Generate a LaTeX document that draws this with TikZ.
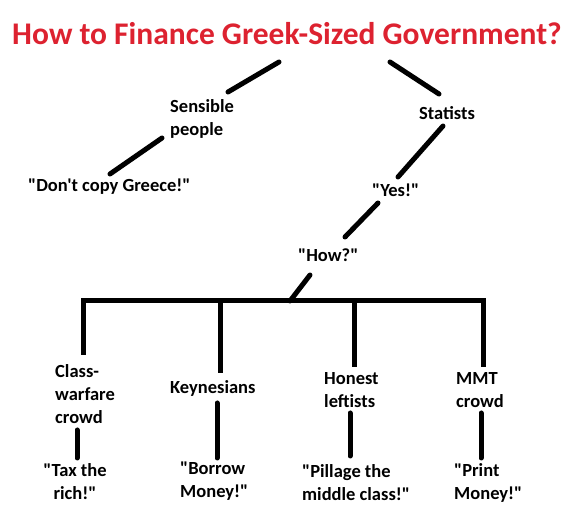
\documentclass[tikz,border=0pt]{standalone}
\usepackage{fontspec}
\setmainfont{Carlito}[Ligatures=TeXOff]
\definecolor{titlered}{HTML}{DD2230}
\begin{document}
\begin{tikzpicture}[x=1pt,y=-1pt,
  lbl/.style={inner sep=0pt,anchor=west,align=left,font=\fontsize{18.5}{23}\selectfont\bfseries},
  conn/.style={line width=5pt,line cap=round},
  barline/.style={line width=5pt,line join=miter}]
\useasboundingbox[fill=white] (0,0) rectangle (574,526);
\node[inner sep=0pt,text=titlered,font=\fontsize{31.5}{36}\selectfont\bfseries] (title) at (287,34) {How to Finance Greek-Sized Government?};
\node[lbl] (sens) at (170,118.5) {Sensible\\people};
\node[lbl] (dont) at (28,187) {"Don't copy Greece!"};
\node[lbl] (stat) at (419,113) {Statists};
\node[lbl] (yes) at (372,190) {"Yes!"};
\node[lbl] (how) at (298,255) {"How?"};
\node[lbl] (class) at (55,394) {Class-\\warfare\\crowd};
\node[lbl] (key) at (170,388) {Keynesians};
\node[lbl] (hon) at (324,390) {Honest\\leftists};
\node[lbl] (mmt) at (456,390) {MMT\\crowd};
\node[lbl,anchor=center,align=center] (tax) at (75,482) {"Tax the\\rich!"};
\node[lbl] (bor) at (180,481) {"Borrow\\Money!"};
\node[lbl] (pil) at (302,483) {"Pillage the\\middle class!"};
\node[lbl] (print) at (454,483) {"Print\\Money!"};
% connector end points
\coordinate (t-s) at (279,62); \coordinate (s-t) at (228,92);
\coordinate (s-d) at (162,138); \coordinate (d-s) at (110,174);
\coordinate (t-st) at (390,62); \coordinate (st-t) at (439,94);
\coordinate (st-y) at (443,126); \coordinate (y-st) at (398,177);
\coordinate (y-h) at (378,203); \coordinate (h-y) at (345,237);
\coordinate (h-b) at (310,275); \coordinate (b-h) at (290,301);
\coordinate (bl) at (83,301); \coordinate (br) at (483,301);
\coordinate (bk) at (220,301); \coordinate (bh) at (354,301);
\coordinate (c-top) at (83,355); \coordinate (k-top) at (220,373);
\coordinate (h-top) at (354,367); \coordinate (m-top) at (483,367);
\coordinate (c-bot) at (77,430); \coordinate (tx-top) at (77,458);
\coordinate (k-bot) at (217,403); \coordinate (bo-top) at (217,458);
\coordinate (h-bot) at (350,413); \coordinate (p-top) at (350,456);
\coordinate (m-bot) at (481,413); \coordinate (pr-top) at (481,458);
\draw[conn] (t-s) -- (s-t);
\draw[conn] (s-d) -- (d-s);
\draw[conn] (t-st) -- (st-t);
\draw[conn] (st-y) -- (y-st);
\draw[conn] (y-h) -- (h-y);
\draw[conn] (h-b) -- (b-h);
\draw[barline] (c-top) -- (bl) -- (br) -- (m-top);
\draw[barline] (bk) -- (k-top);
\draw[barline] (bh) -- (h-top);
\draw[conn] (c-bot) -- (tx-top);
\draw[conn] (k-bot) -- (bo-top);
\draw[conn] (h-bot) -- (p-top);
\draw[conn] (m-bot) -- (pr-top);
\end{tikzpicture}
\end{document}
